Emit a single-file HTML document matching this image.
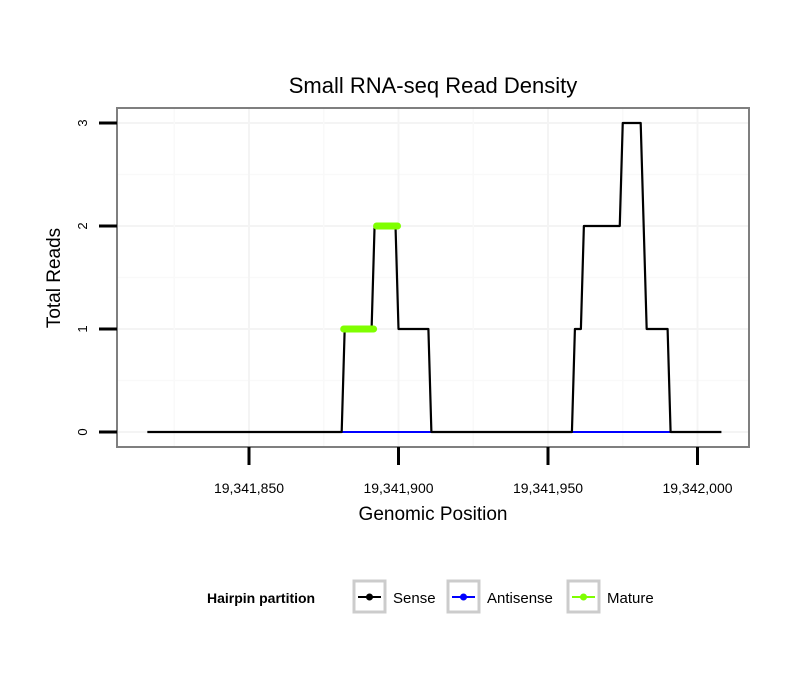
<!DOCTYPE html>
<html><head><meta charset="utf-8"><style>
body{margin:0;background:#fff;font-family:"Liberation Sans",sans-serif}
</style></head><body>
<svg id="chart" width="810" height="690" xmlns="http://www.w3.org/2000/svg" font-family="Liberation Sans, sans-serif">
<rect width="810" height="690" fill="#fff"/>
<text x="433" y="93" font-size="22" text-anchor="middle">Small RNA-seq Read Density</text>
<g id="grid"></g>
<g id="marks"></g>
<rect x="117" y="108" width="632" height="339" fill="none" stroke="#7f7f7f" stroke-width="2"/>
<g id="axes"></g>
<text x="433" y="520" font-size="19" text-anchor="middle">Genomic Position</text>
<text transform="translate(60,278) rotate(-90)" font-size="19" text-anchor="middle">Total Reads</text>
<g>
<text x="207" y="603" font-size="14" font-weight="bold">Hairpin partition</text>
<g>
<rect x="354" y="581" width="31" height="31" fill="#fff" stroke="#ccc" stroke-width="3"/>
<line x1="358" y1="597" x2="381" y2="597" stroke="#000" stroke-width="2"/><circle cx="369.5" cy="597" r="3.5" fill="#000"/>
<text x="393" y="603" font-size="15">Sense</text></g>
<g>
<rect x="448" y="581" width="31" height="31" fill="#fff" stroke="#ccc" stroke-width="3"/>
<line x1="452" y1="597" x2="475" y2="597" stroke="#00f" stroke-width="2"/><circle cx="463.5" cy="597" r="3.5" fill="#00f"/>
<text x="487" y="603" font-size="15">Antisense</text></g>
<g>
<rect x="568" y="581" width="31" height="31" fill="#fff" stroke="#ccc" stroke-width="3"/>
<line x1="572" y1="597" x2="595" y2="597" stroke="#7fff00" stroke-width="2"/><circle cx="583.5" cy="597" r="3.5" fill="#7fff00"/>
<text x="607" y="603" font-size="15">Mature</text></g>
</g>
</svg>
<script>
const xTicks=[19341850,19341900,19341950,19342000];
const xTickLabels=["19,341,850","19,341,900","19,341,950","19,342,000"];
const yTicks=[0,1,2,3];
const senseX=[19341816,19341881,19341882,19341891,19341892,19341899,19341900,19341910,19341911,19341958,19341959,19341961,19341962,19341974,19341975,19341981,19341983,19341990,19341991,19342008];
const senseY=[0,0,1,1,2,2,1,1,0,0,1,1,2,2,3,3,1,1,0,0];
const antisenseStart=[19341881,19341958];
const antisenseEnd=[19341911,19341991];
const matureStart=[19341881,19341892];
const matureEnd=[19341892,19341900];
const matureY=[1,2];

const NS="http://www.w3.org/2000/svg";
const X=p=>249+(p-19341850)*(149.5/50);
const Y=v=>432-v*103;
function mk(tag,attrs,parent){const e=document.createElementNS(NS,tag);for(const k in attrs)e.setAttribute(k,attrs[k]);parent.appendChild(e);return e;}
const grid=document.getElementById('grid'),marks=document.getElementById('marks'),axes=document.getElementById('axes');
for(let v=-0.5;v<=3.5;v+=0.5){const y=Y(v);if(y<109||y>446)continue;
 const l=mk('line',{x1:118,x2:748,y1:y,y2:y,stroke:Number.isInteger(v)?'#f4f4f4':'#f9f9f9','stroke-width':Number.isInteger(v)?2:1.5},grid);
 
 }
for(let p=19341800;p<=19342050;p+=25){const x=X(p);if(x<119||x>747)continue;
 const l=mk('line',{x1:x,x2:x,y1:109,y2:446,stroke:(p%50===0)?'#f4f4f4':'#f9f9f9','stroke-width':(p%50===0)?2:1.5},grid);
 
 }
antisenseStart.forEach((s,i)=>{const l=mk('line',{x1:X(s),x2:X(antisenseEnd[i]),y1:Y(0),y2:Y(0),stroke:'#00f','stroke-width':2},marks);
 
 });
const pl=mk('polyline',{points:senseX.map((p,i)=>X(p)+','+Y(senseY[i])).join(' '),fill:'none',stroke:'#000','stroke-width':2.2,'stroke-linejoin':'round'},marks);


matureStart.forEach((s,i)=>{const l=mk('line',{x1:X(s)+2,x2:X(matureEnd[i])-1,y1:Y(matureY[i]),y2:Y(matureY[i]),stroke:'#7fff00','stroke-width':7,'stroke-linecap':'round'},marks);
 
 });
yTicks.forEach(v=>{const y=Y(v);
 const t=mk('line',{x1:99,x2:117,y1:y,y2:y,stroke:'#000','stroke-width':3},axes);
 
 
 const tx=mk('text',{transform:`translate(87,${y}) rotate(-90)`,'font-size':13,'text-anchor':'middle'},axes);tx.textContent=v;
 
 });
xTicks.forEach((p,i)=>{const x=X(p);
 const t=mk('line',{x1:x,x2:x,y1:447,y2:465,stroke:'#000','stroke-width':3},axes);
 
 
 const tx=mk('text',{x:x,y:493,'font-size':14,'text-anchor':'middle'},axes);tx.textContent=xTickLabels[i];
 
 });
</script>
</body></html>
